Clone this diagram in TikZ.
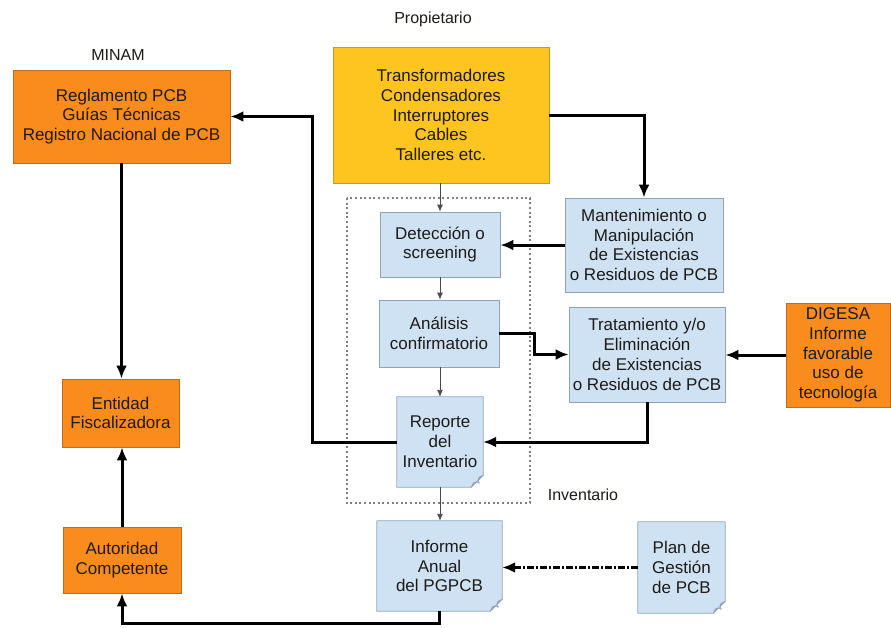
\documentclass[tikz,border=0pt]{standalone}
\usepackage{fontspec}
\setmainfont{Liberation Sans}
\usetikzlibrary{arrows.meta}
\definecolor{orangefill}{HTML}{FA8C1E}
\definecolor{orangeline}{HTML}{C46A1C}
\definecolor{yellowfill}{HTML}{FEC520}
\definecolor{yellowline}{HTML}{C99A1E}
\definecolor{bluefill}{HTML}{CFE2F3}
\definecolor{blueline}{HTML}{8FA3B6}
\definecolor{foldfill}{HTML}{E4EEF8}
\definecolor{textcol}{HTML}{1E1A16}
\definecolor{framecol}{HTML}{7F7F7F}
\definecolor{thincol}{HTML}{4A4A4A}
\begin{document}
\begin{tikzpicture}[x=1pt,y=-1pt,
  every node/.style={font=\fontsize{17}{19.8}\selectfont, text=textcol, align=center, inner sep=2pt},
  orangebox/.style={draw=orangeline, fill=orangefill, line width=0.8pt},
  yellowbox/.style={draw=yellowline, fill=yellowfill, line width=0.8pt},
  bluebox/.style={draw=blueline, fill=bluefill, line width=0.8pt},
  docbox/.style={fill=bluefill},
  sz/.style 2 args={minimum width=#1pt, minimum height=#2pt},
  flow/.style={line width=3pt, -{Latex[length=13pt,width=11pt]}},
  thinflow/.style={draw=thincol, line width=0.9pt, -{Latex[length=7pt,width=6pt]}},
  dashflow/.style={line width=3pt, dash pattern=on 7pt off 2pt on 2pt off 2pt, -{Latex[length=13pt,width=11pt]}},
  framestyle/.style={draw=framecol, line width=2pt, dash pattern=on 2pt off 2.6pt},
  label/.style={font=\fontsize{16}{18}\selectfont}
]
\path[use as bounding box, fill=white] (0,0) rectangle (891,627);

% group labels
\node[label] (minam) at (118,55) {MINAM};
\node[label] (prop) at (433,19) {Propietario};
\node[label] (invlab) at (583,495) {Inventario};

% inventory frame
\draw[framestyle] (347,198) rectangle (530,503);

% boxes
\node[orangebox, sz={217}{93}] (regl) at (121.5,116.5) {Reglamento PCB\\Guías Técnicas\\Registro Nacional de PCB};
\node[yellowbox, sz={216}{136}] (yel) at (441,115) {Transformadores\\Condensadores\\Interruptores\\Cables\\Talleres etc.};
\node[bluebox, sz={120}{65}] (det) at (440,244.5) {Detección o\\screening};
\node[bluebox, sz={120}{67}] (ana) at (439,333.5) {Análisis\\confirmatorio};
\node[docbox, sz={86}{90}] (rep) at (440,442) {Reporte\\del\\Inventario};
\node[bluebox, sz={158}{94}] (mant) at (644,245) {Mantenimiento o\\Manipulación\\de Existencias\\o Residuos de PCB};
\node[bluebox, sz={156}{95}] (trat) at (647,354.5) {Tratamiento y/o\\Eliminación\\de Existencias\\o Residuos de PCB};
\node[orangebox, sz={104}{104}] (dig) at (838,355) {DIGESA\\Informe\\favorable\\uso de\\tecnología};
\node[orangebox, sz={117}{68}] (ent) at (120.5,413) {Entidad\\Fiscalizadora};
\node[orangebox, sz={118}{66}] (aut) at (122,560) {Autoridad\\Competente};
\node[docbox, sz={125}{90}] (inf) at (439.5,566) {Informe\\Anual\\del PGPCB};
\node[docbox, sz={87}{91}] (plan) at (681.5,567.5) {Plan de\\Gestión\\de PCB};

% document outlines with a folded corner
\foreach \n in {rep,inf,plan}{
  \fill[white] ([xshift=-12pt]\n.south east) -- (\n.south east) -- ([yshift=12pt]\n.south east) -- cycle;
  \draw[blueline, line width=0.8pt, line join=round]
    (\n.south west) -- (\n.north west) -- (\n.north east) -- ([yshift=12pt]\n.south east)
    -- ([xshift=-12pt]\n.south east) -- cycle;
  \draw[blueline, line width=0.8pt, fill=foldfill, line join=round]
    ([yshift=12pt]\n.south east) -- ([xshift=-12pt]\n.south east)
    .. controls ([xshift=-9pt,yshift=6pt]\n.south east) .. ([xshift=-4pt,yshift=4pt]\n.south east)
    .. controls ([xshift=-6pt,yshift=9pt]\n.south east) .. cycle;
}

% main flow connectors
\draw[flow] (yel.east) -| (mant.north);
\draw[flow] (mant.west) -- (mant.west -| det.east);
\draw[flow] (ana.east) -- ++(35,0) |- (trat.west);
\draw[flow] (dig.west) -- (dig.west -| trat.east);
\draw[flow] (trat.south) |- (rep.east);
\draw[flow] (rep.west) -- ++(-84,0) |- (regl.east);
\draw[flow] (regl.south) -- (regl.south |- ent.north);
\draw[flow] (aut.north) -- (aut.north |- ent.south);
\draw[flow] (inf.south) -- ++(0,12) -| (aut.south);
\draw[dashflow] (plan.west) -- (plan.west -| inf.east);

% inventory steps
\draw[thinflow] (det.north |- yel.south) -- (det.north);
\draw[thinflow] (det.south) -- (det.south |- ana.north);
\draw[thinflow] (rep.north |- ana.south) -- (rep.north);
\draw[thinflow] (rep.south) -- (rep.south |- inf.north);
\end{tikzpicture}
\end{document}
